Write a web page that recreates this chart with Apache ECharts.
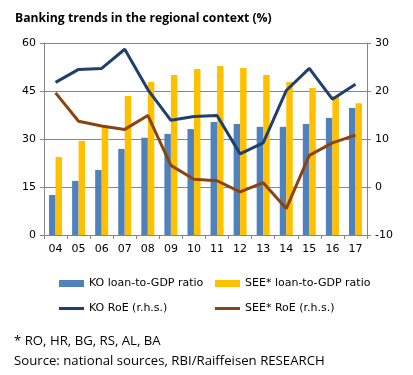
<!DOCTYPE html>
<html>
<head>
<meta charset="utf-8">
<script src="https://cdn.jsdelivr.net/npm/echarts@6/dist/echarts.min.js"></script>
<style>
  html, body { margin: 0; padding: 0; background: #fff; }
  #chart { width: 413px; height: 375px; }
</style>
</head>
<body>
<div id="chart"></div>
<script>
const years = ['04', '05', '06', '07', '08', '09', '10', '11', '12', '13', '14', '15', '16', '17']
const koLoan = [12.5, 16.9, 20.3, 26.9, 30.4, 31.6, 33.1, 35.3, 34.7, 33.8, 33.8, 34.7, 36.6, 39.7]
const seeLoan = [24.4, 29.4, 34.0, 43.4, 47.8, 50.0, 51.9, 52.8, 52.2, 50.0, 47.8, 45.9, 43.4, 41.2]
const koRoe = [21.8, 24.5, 24.7, 28.7, 20.3, 13.9, 14.7, 14.9, 6.9, 9.2, 20.1, 24.7, 18.3, 21.4]
const seeRoe = [19.6, 13.7, 12.7, 12.0, 14.9, 4.5, 1.6, 1.3, -1.0, 0.9, -4.5, 6.6, 9.2, 10.8]

const axisFont = 'DejaVu Sans'
const textFont = '"Open Sans", sans-serif'
const gridColor = '#868686'

const chart = echarts.init(document.getElementById('chart'), null, { renderer: 'canvas' })

const legendBase = {
  itemWidth: 25,
  itemGap: 3,
  textStyle: { fontFamily: axisFont, fontSize: 11, color: '#000' },
  selectedMode: false,
  icon: 'rect',
}

chart.setOption({
  animation: false,
  backgroundColor: '#fff',
  title: [
    {
      text: 'Banking trends in the regional context (%)',
      left: 10, top: 8,
      textStyle: { fontFamily: textFont, fontSize: 12.2, fontWeight: 'bold', color: '#000' },
    },
    {
      text: '* RO, HR, BG, RS, AL, BA\nSource: national sources, RBI/Raiffeisen RESEARCH',
      left: 9, top: 326,
      textStyle: { fontFamily: textFont, fontSize: 13.2, fontWeight: 'normal', color: '#000', lineHeight: 20 },
    },
  ],
  legend: [
    { ...legendBase, left: 54, top: 273, itemHeight: 7, data: ['KO loan-to-GDP ratio'] },
    { ...legendBase, left: 210, top: 273, itemHeight: 7, data: ['SEE* loan-to-GDP ratio'] },
    { ...legendBase, left: 54, top: 298, itemHeight: 3, data: ['KO RoE (r.h.s.)'] },
    { ...legendBase, left: 210, top: 298, itemHeight: 3, data: ['SEE* RoE (r.h.s.)'] },
  ],
  grid: { left: 44, right: 46, top: 43, bottom: 140 },
  xAxis: {
    type: 'category',
    data: years,
    boundaryGap: true,
    axisLine: { lineStyle: { color: gridColor } },
    axisTick: { show: true, length: 4, lineStyle: { color: gridColor } },
    axisLabel: { fontFamily: axisFont, fontSize: 11, color: '#000', margin: 9 },
  },
  yAxis: [
    {
      type: 'value', min: 0, max: 60, interval: 15,
      axisLine: { show: true, lineStyle: { color: gridColor } },
      axisTick: { show: true, length: 4, lineStyle: { color: gridColor } },
      axisLabel: { fontFamily: axisFont, fontSize: 11, color: '#000', margin: 8 },
      splitLine: { lineStyle: { color: gridColor } },
    },
    {
      type: 'value', min: -10, max: 30, interval: 10,
      axisLine: { show: true, lineStyle: { color: gridColor } },
      axisTick: { show: true, length: 4, lineStyle: { color: gridColor } },
      axisLabel: { fontFamily: axisFont, fontSize: 11, color: '#000', margin: 8 },
      splitLine: { show: false },
    },
  ],
  series: [
    {
      name: 'KO loan-to-GDP ratio', type: 'bar', data: koLoan,
      barWidth: 6.5, barGap: '0%',
      itemStyle: { color: '#4F81BD' },
    },
    {
      name: 'SEE* loan-to-GDP ratio', type: 'bar', data: seeLoan,
      barWidth: 6.5, barGap: '0%',
      itemStyle: { color: '#FFC000' },
    },
    {
      name: 'KO RoE (r.h.s.)', type: 'line', yAxisIndex: 1, data: koRoe,
      symbol: 'none',
      lineStyle: { color: '#1F3F6E', width: 3 },
      itemStyle: { color: '#1F3F6E' },
    },
    {
      name: 'SEE* RoE (r.h.s.)', type: 'line', yAxisIndex: 1, data: seeRoe,
      symbol: 'none',
      lineStyle: { color: '#8B440F', width: 3 },
      itemStyle: { color: '#8B440F' },
    },
  ],
})
</script>
</body>
</html>
